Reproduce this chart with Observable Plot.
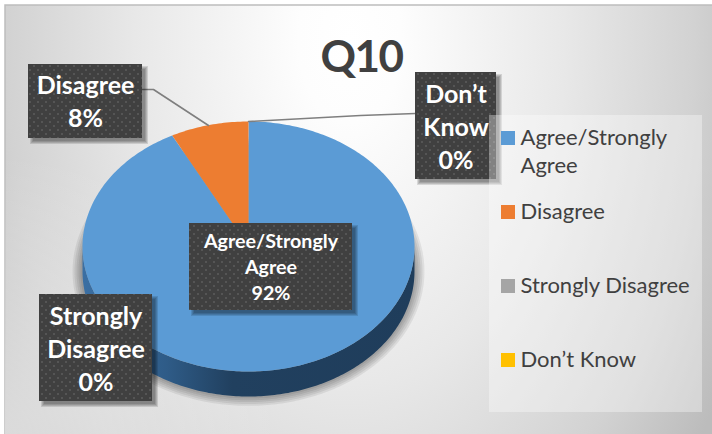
<!DOCTYPE html>
<html>
<head>
<meta charset="utf-8">
<script src="https://cdn.jsdelivr.net/npm/d3@7"></script>
<script src="https://cdn.jsdelivr.net/npm/@observablehq/plot@0.6"></script>
<style>
html,body{margin:0;padding:0;background:#fff;overflow:hidden}
svg{display:block}
.tight text{letter-spacing:-0.035em}
</style>
</head>
<body>
<div id="chart"></div>
<script>
const categories = ["Agree/Strongly Agree", "Disagree", "Strongly Disagree", "Don’t Know"];
const percents = [92.4, 7.6, 0, 0];
const colors = ["#5b9bd5", "#ed7d31", "#a5a5a5", "#ffc000"];
const labelLines = [["Agree/Strongly", "Agree"], ["Disagree"], ["Strongly", "Disagree"], ["Don’t", "Know"]];
const legendLines = [["Agree/Strongly", "Agree"], ["Disagree"], ["Strongly Disagree"], ["Don’t Know"]];
const chartTitle = "Q10";

// layout, in pixels of the picture
const W = 712, H = 434;
const pie = {cx: 248, cy: 246, rx: 166, ry: 125, depth: 25};
const boxes = [
  {x1: 189, x2: 352, y1: 223, y2: 310, size: 19.7, first: 241, lead: 26},
  {x1: 28, x2: 142, y1: 64, y2: 138, size: 25, first: 85, lead: 33},
  {x1: 39, x2: 152, y1: 294, y2: 401, size: 25, first: 316, lead: 33},
  {x1: 415, x2: 496, y1: 72, y2: 179, size: 25, first: 94, lead: 33}
];
const legendRows = [137, 211, 285, 359];
const shadowRings = [0.015, 0.03, 0.045, 0.06, 0.075];
const boxShadowInsets = [1, 0, -1, -2];

const point = (t, dy = 0) => ({
  x: pie.cx + pie.rx * Math.sin(t),
  y: pie.cy + dy - pie.ry * Math.cos(t)
});
const arcPts = (a0, a1, dy = 0) => {
  const n = Math.max(2, Math.ceil(Math.abs(a1 - a0) * 60));
  return d3.range(n + 1).map(i => point(a0 + (a1 - a0) * i / n, dy));
};

// slices from the values
const total = d3.sum(percents);
let acc = 0;
const slices = [];
categories.forEach((c, i) => {
  const a0 = acc / total * 2 * Math.PI;
  acc += percents[i];
  const a1 = acc / total * 2 * Math.PI;
  if (a1 > a0) {
    slices.push({x: pie.cx, y: pie.cy, c});
    for (const p of arcPts(a0, a1)) slices.push({...p, c});
  }
});
// extruded side: front half of the rim
const side = [...arcPts(Math.PI / 2, 3 * Math.PI / 2, pie.depth), ...arcPts(3 * Math.PI / 2, Math.PI / 2, 0)];
// soft shadow: stacked translucent ellipses
const shadow = shadowRings.flatMap(s => arcPts(0, 2 * Math.PI).map(p => ({
  s,
  x: (p.x - pie.cx) * (1 + 0.8 * s) + pie.cx,
  y: (p.y - pie.cy) * (1 + s) + pie.cy + 25
})));
const boxShadows = boxShadowInsets.flatMap(k => boxes.map(b => ({
  x1: b.x1 + 4 + k, x2: b.x2 + 4 - k, y1: b.y1 + 4 + k, y2: b.y2 + 4 - k
})));

const defs = () => {
  const s = d3.create("svg:defs");
  const bg = s.append("radialGradient").attr("id", "bg").attr("gradientUnits", "userSpaceOnUse")
    .attr("cx", 350).attr("cy", 40).attr("r", 430)
    .attr("gradientTransform", "translate(350 40) scale(1 1.6) translate(-350 -40)");
  [[0, "#ffffff"], [0.12, "#fdfdfd"], [0.5, "#e8e8e8"], [0.8, "#d2d2d2"], [1, "#bcbcbc"]]
    .forEach(([o, c]) => bg.append("stop").attr("offset", o).attr("stop-color", c));
  const lift = s.append("radialGradient").attr("id", "lift").attr("gradientUnits", "userSpaceOnUse")
    .attr("cx", 0).attr("cy", H).attr("r", 280);
  [[0, 0.45], [1, 0]].forEach(([o, a]) => lift.append("stop").attr("offset", o).attr("stop-color", "#fff").attr("stop-opacity", a));
  const sg = s.append("linearGradient").attr("id", "side").attr("gradientUnits", "userSpaceOnUse")
    .attr("x1", pie.cx - pie.rx).attr("x2", pie.cx + pie.rx).attr("y1", 0).attr("y2", 0);
  [[0, "#3b6fa3"], [0.25, "#2f5c88"], [0.45, "#21405f"], [1, "#1f3d5b"]]
    .forEach(([o, c]) => sg.append("stop").attr("offset", o).attr("stop-color", c));
  const p = s.append("pattern").attr("id", "dots").attr("patternUnits", "userSpaceOnUse")
    .attr("width", 8).attr("height", 8);
  p.append("rect").attr("width", 8).attr("height", 8).attr("fill", "#404040");
  [[2, 2], [6, 6]].forEach(([x, y]) =>
    p.append("rect").attr("x", x - 1).attr("y", y - 1).attr("width", 2).attr("height", 2).attr("fill", "#555555"));
  return s.node();
};

const labelRows = (i) => [...labelLines[i], Math.round(percents[i]) + "%"].map((t, k) => ({
  t, x: (boxes[i].x1 + boxes[i].x2) / 2, y: boxes[i].first + k * boxes[i].lead, size: boxes[i].size
}));
const labelTexts = categories.flatMap((_, i) => labelRows(i));
const legendTexts = legendLines.flatMap((ls, i) => ls.map((t, k) => ({t, x: 520, y: legendRows[i] + k * 28})));
const swatches = categories.map((c, i) => ({c, x1: 501, x2: 515, y1: legendRows[i] - 6, y2: legendRows[i] + 8}));

const font = "Lato, Carlito, Calibri, sans-serif";
const frameRect = [{x1: 5, x2: W + 6, y1: 5, y2: H + 6}];
const plot = Plot.plot({
  width: W, height: H,
  margin: 0,
  x: {domain: [0, W], range: [0, W], axis: null},
  y: {domain: [0, H], range: [0, H], axis: null},
  color: {domain: categories, range: colors},
  style: {background: "#fff", fontFamily: font},
  marks: [
    defs,
    Plot.rect(frameRect, {x1: "x1", x2: "x2", y1: "y1", y2: "y2", fill: "url(#bg)", stroke: "#bdbdbd", strokeWidth: 1.5}),
    Plot.rect(frameRect, {x1: "x1", x2: "x2", y1: "y1", y2: "y2", fill: "url(#lift)"}),
    Plot.line(shadow, {x: "x", y: "y", z: "s", fill: "#000", fillOpacity: 0.07, stroke: "none"}),
    Plot.line(side, {x: "x", y: "y", fill: "url(#side)", stroke: "none"}),
    Plot.line(slices, {x: "x", y: "y", z: "c", fill: "c", stroke: "none"}),
    Plot.line([{x: 142, y: 89}, {x: 153, y: 89}, {x: 208, y: 125}], {x: "x", y: "y", stroke: "#7f7f7f", strokeWidth: 1.6}),
    Plot.line([{x: 248, y: 121}, {x: 360, y: 115}, {x: 415, y: 113}], {x: "x", y: "y", stroke: "#7f7f7f", strokeWidth: 1.6}),
    Plot.rect(boxShadows, {x1: "x1", x2: "x2", y1: "y1", y2: "y2", fill: "#000", fillOpacity: 0.12}),
    Plot.rect(boxes, {x1: "x1", x2: "x2", y1: "y1", y2: "y2", fill: "url(#dots)"}),
    Plot.text(labelTexts, {x: "x", y: "y", text: "t", fontSize: "size", fontWeight: 700, fill: "#fff"}),
    Plot.text([chartTitle], {x: () => 361, y: () => 57, text: d => d, fontSize: 44, fontWeight: 700, fill: "#404040", className: "tight"}),
    Plot.rect([{x1: 489, x2: 702, y1: 115, y2: 412}], {x1: "x1", x2: "x2", y1: "y1", y2: "y2", fill: "#fff", fillOpacity: 0.35}),
    Plot.rect(swatches, {x1: "x1", x2: "x2", y1: "y1", y2: "y2", fill: "c"}),
    Plot.text(legendTexts, {x: "x", y: "y", text: "t", textAnchor: "start", fontSize: 22, fill: "#404040"})
  ]
});
document.getElementById("chart").append(plot);
</script>
</body>
</html>
